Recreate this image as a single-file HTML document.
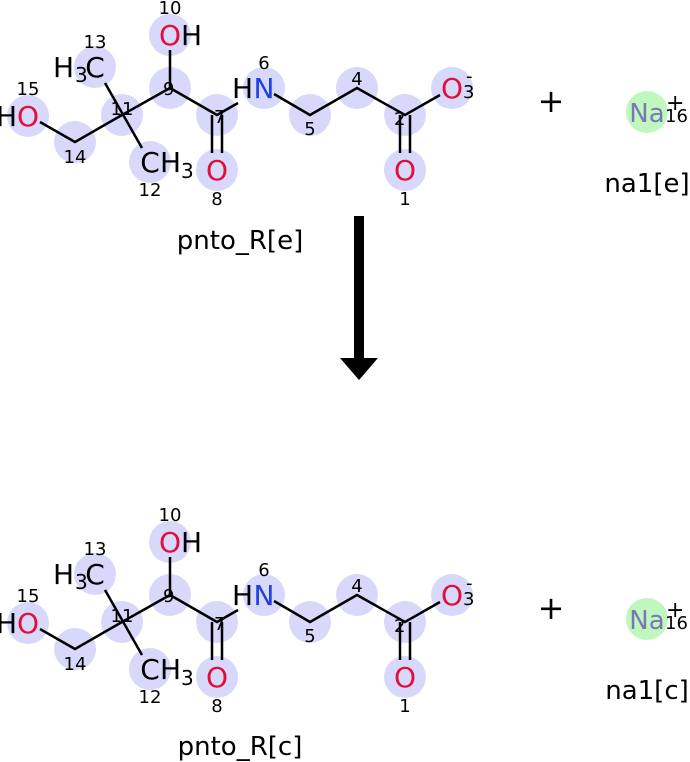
<!DOCTYPE html>
<html><head><meta charset="utf-8"><style>body{margin:0;background:#fff}svg{display:block}</style></head><body>
<svg width="690" height="762" viewBox="0 0 690 762" xmlns="http://www.w3.org/2000/svg" font-family="'DejaVu Sans','Liberation Sans',sans-serif">
<defs>
<g id="mol">
<g fill="#d8d8fb">
<circle cx="28" cy="116" r="21"/><circle cx="75" cy="142" r="21"/><circle cx="122" cy="115" r="21"/>
<circle cx="95" cy="67" r="21"/><circle cx="150" cy="162" r="21"/><circle cx="170" cy="88" r="21"/>
<circle cx="170" cy="35" r="21"/><circle cx="217" cy="115" r="21"/><circle cx="217" cy="170" r="21"/>
<circle cx="264" cy="88" r="21"/><circle cx="310" cy="115" r="21"/><circle cx="357" cy="88" r="21"/>
<circle cx="405" cy="115" r="21"/><circle cx="405" cy="170" r="21"/><circle cx="452" cy="88" r="21"/>
</g>
<g stroke="#000" stroke-width="2.5" fill="none">
<polyline points="40,122 75,142 122,115 170,88 217,115 238,103"/>
<polyline points="274,94 310,115 357,88 405,115 440,95"/>
<line x1="105" y1="83" x2="142" y2="148"/>
<line x1="170" y1="88" x2="170" y2="50"/>
<line x1="212" y1="115" x2="212" y2="153"/><line x1="222" y1="115" x2="222" y2="153"/>
<line x1="400" y1="115" x2="400" y2="153"/><line x1="410" y1="115" x2="410" y2="153"/>
</g>
<g font-size="28">
<text x="28" y="126" text-anchor="middle" fill="#e0103a">O</text>
<text x="17" y="126" text-anchor="end">H</text>
<text x="53" y="77">H</text><text x="75" y="82" font-size="20">3</text>
<text x="95" y="77" text-anchor="middle">C</text>
<text x="150" y="172" text-anchor="middle">C</text>
<text x="160" y="172">H</text><text x="181" y="178" font-size="20">3</text>
<text x="170" y="45" text-anchor="middle" fill="#e0103a">O</text>
<text x="181" y="45">H</text>
<text x="217" y="180" text-anchor="middle" fill="#e0103a">O</text>
<text x="264" y="98" text-anchor="middle" fill="#2040e0">N</text>
<text x="253" y="98" text-anchor="end">H</text>
<text x="405" y="180" text-anchor="middle" fill="#e0103a">O</text>
<text x="452" y="98" text-anchor="middle" fill="#e0103a">O</text>
</g>
<g font-size="18">
<text x="170" y="14" text-anchor="middle">10</text>
<text x="95" y="48" text-anchor="middle">13</text>
<text x="28" y="95" text-anchor="middle">15</text>
<text x="122" y="115" text-anchor="middle">11</text>
<text x="163" y="95">9</text>
<text x="75" y="163" text-anchor="middle">14</text>
<text x="150" y="196" text-anchor="middle">12</text>
<text x="217" y="205" text-anchor="middle">8</text>
<text x="214" y="123">7</text>
<text x="264" y="69" text-anchor="middle">6</text>
<text x="310" y="135" text-anchor="middle">5</text>
<text x="357" y="85" text-anchor="middle">4</text>
<text x="394" y="125">2</text>
<text x="405" y="205" text-anchor="middle">1</text>
<text x="463" y="98">3</text>
<text x="466" y="82">-</text>
</g>
<text x="551" y="112" font-size="32" text-anchor="middle">+</text>
<circle cx="647" cy="112" r="21" fill="#bff7bf"/>
<text x="647" y="122" font-size="26" text-anchor="middle" fill="#7878b4">Na</text>
<text x="666" y="110" font-size="22">+</text>
<text x="665" y="122" font-size="18">16</text>
</g>
</defs>
<use href="#mol"/>
<use href="#mol" y="507"/>
<g font-size="26" text-anchor="middle">
<text x="240" y="249">pnto_R[e]</text>
<text x="240" y="755">pnto_R[c]</text>
<text x="647" y="192">na1[e]</text>
<text x="647" y="699">na1[c]</text>
</g>
<rect x="354" y="216" width="10" height="144" fill="#000"/>
<polygon points="340,358 378,358 359,380" fill="#000"/>
</svg>
</body></html>
